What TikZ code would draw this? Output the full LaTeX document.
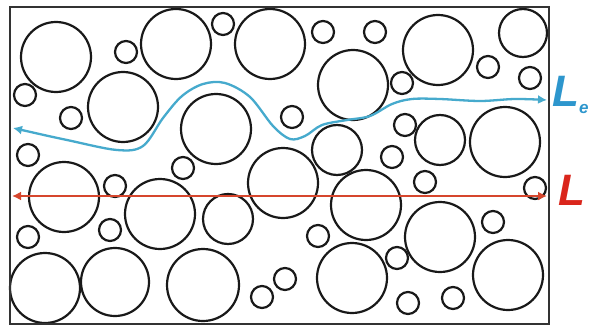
\documentclass[tikz,border=0pt]{standalone}
\usepackage{fontspec}
\setmainfont{Liberation Sans}
\usetikzlibrary{arrows.meta}
\definecolor{pathblue}{RGB}{70,170,205}
\definecolor{labblue}{RGB}{45,150,205}
\definecolor{pathred}{RGB}{214,70,45}
\definecolor{labred}{RGB}{218,38,28}
\definecolor{ringcol}{RGB}{25,25,25}
\tikzset{
  grain/.style={draw=ringcol,line width=2.2pt},
  frame/.style={draw=black!80,line width=2.2pt},
  tortuous/.style={pathblue,line width=2.3pt,{Latex[length=9pt,width=9pt]}-{Latex[length=9pt,width=9pt]}},
  straight/.style={pathred,line width=2.8pt,{Latex[length=9pt,width=9pt]}-{Latex[length=9pt,width=9pt]}},
  biglabel/.style={inner sep=0pt,anchor=base west,font=\fontsize{44}{44}\selectfont\bfseries\itshape}
}
\begin{document}
\begin{tikzpicture}[x=1pt,y=-1pt]
\useasboundingbox[fill=white] (0,0) rectangle (591,329);
% grains
\foreach \cx/\cy/\r in {
 56/57/35, 176/44/35, 270/44/35, 438/50/35, 123/107/35, 353/85/35,
 216/129/35, 505/142/35, 64/197/35, 160/214/35, 283/183/35, 366/205/35,
 440/237/35, 508/275/35, 45/288/35, 115/282/34, 203/285/36, 352/278/35,
 523/33/24, 337/150/25, 440/140/25, 228/219/25,
 25/95/11, 126/52/11, 71/118/11, 28/155/11, 223/24/11, 323/32/11,
 375/32/11, 292/117/11, 488/67/11, 530/78/11, 402/83/11, 405/125/11,
 392/157/11, 183/168/11, 115/186/11, 28/237/11, 110/230/11, 262/297/11,
 285/279/11, 318/236/11, 425/182/11, 535/188/11, 493/222/11, 397/258/11,
 408/303/11, 453/298/11}
  \draw[grain] (\cx,\cy) circle[radius=\r];
% frame
\draw[frame] (10,7) rectangle (549,324);
% end points
\coordinate (bl) at (13,128);
\coordinate (br) at (547,100);
\coordinate (rl) at (12,196);
\coordinate (rr) at (547,196);
% tortuous path
\draw[tortuous] plot[smooth,tension=0.55] coordinates {
 (bl) (67,140) (117,150) (143,146) (163,118) (182,96) (203,84) (225,83)
 (250,97) (273,126) (290,139) (305,136) (322,125) (347,120) (370,116)
 (392,104) (412,99) (440,99) (480,101) (515,99) (br)};
% straight path
\draw[straight] (rl) -- (rr);
% labels
\node[biglabel,labblue] (le) at (552,106) {L\raisebox{-7pt}{\fontsize{17}{17}\selectfont e}};
\node[biglabel,labred] (ll) at (558,205) {L};
\end{tikzpicture}
\end{document}
